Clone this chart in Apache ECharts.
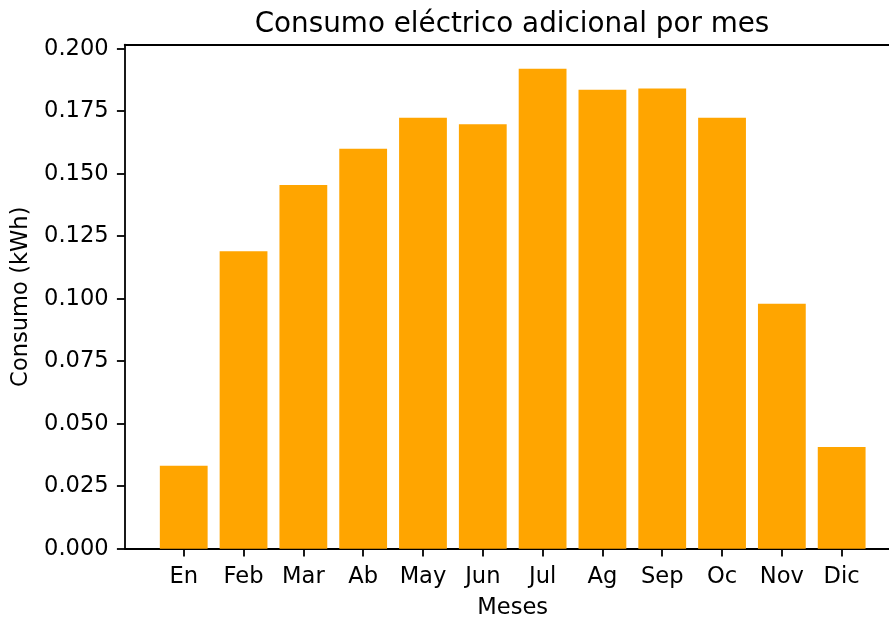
<!DOCTYPE html>
<html>
<head>
<meta charset="utf-8">
<script src="https://cdn.jsdelivr.net/npm/echarts@6/dist/echarts.min.js"></script>
<style>
  html, body { margin: 0; padding: 0; background: #ffffff; }
  #chart { width: 889px; height: 619px; }
</style>
</head>
<body>
<div id="chart"></div>
<script>
// Monthly additional electricity use
const months = ['En', 'Feb', 'Mar', 'Ab', 'May', 'Jun', 'Jul', 'Ag', 'Sep', 'Oc', 'Nov', 'Dic'];
const consumo = [0.0332, 0.1190, 0.1455, 0.1600, 0.1724, 0.1698, 0.1920, 0.1836, 0.1841, 0.1724, 0.0980, 0.0407];
const yTicks = [0, 0.025, 0.05, 0.075, 0.1, 0.125, 0.15, 0.175, 0.2];
const monthPositions = months.map((_, i) => i);

const FONT = 'DejaVu Sans';
const TICK_SIZE = 22.6;

const chart = echarts.init(document.getElementById('chart'), null, { renderer: 'canvas' });

const yMax = Math.max(...consumo) * 1.05;   // 5% headroom above the tallest bar
const xPad = 0.987;                          // margin either side of the outer bars

chart.setOption({
  animation: false,
  backgroundColor: '#ffffff',
  title: {
    text: 'Consumo eléctrico adicional por mes',
    left: 507,
    top: 6,
    textAlign: 'center',
    textStyle: { fontFamily: FONT, fontSize: 27.8, fontWeight: 'normal', color: '#000' }
  },
  // plot area runs a little past the right edge of the canvas
  grid: { left: 124.7, width: 776, top: 44.7, bottom: 70.3, containLabel: false, outerBoundsMode: 'none' },
  xAxis: [
    {
      type: 'value',
      min: -xPad,
      max: months.length - 1 + xPad,
      name: 'Meses',
      nameLocation: 'middle',
      nameGap: 48,
      nameTextStyle: { fontFamily: FONT, fontSize: TICK_SIZE, color: '#000' },
      axisLine: { show: true, onZero: false, lineStyle: { color: '#000', width: 1.8 } },
      axisTick: { show: true, length: 7.8, lineStyle: { color: '#000', width: 1.8 }, customValues: monthPositions },
      axisLabel: {
        customValues: monthPositions,
        margin: 17,
        fontFamily: FONT, fontSize: TICK_SIZE, color: '#000',
        formatter: v => months[Math.round(v)]
      },
      splitLine: { show: false }
    },
    {
      type: 'value',
      position: 'top',
      min: -xPad,
      max: months.length - 1 + xPad,
      axisLine: { show: true, onZero: false, lineStyle: { color: '#000', width: 1.8 } },
      axisTick: { show: false },
      axisLabel: { show: false },
      splitLine: { show: false }
    }
  ],
  yAxis: {
    type: 'value',
    min: 0,
    max: yMax,
    name: 'Consumo (kWh)',
    nameLocation: 'middle',
    nameGap: 92,
    nameTextStyle: { fontFamily: FONT, fontSize: TICK_SIZE, color: '#000' },
    axisLine: { show: true, onZero: false, lineStyle: { color: '#000', width: 1.8 } },
    axisTick: { show: true, length: 7.8, lineStyle: { color: '#000', width: 1.8 }, customValues: yTicks },
    axisLabel: {
      customValues: yTicks,
      margin: 16,
      fontFamily: FONT, fontSize: TICK_SIZE, color: '#000',
      formatter: v => v.toFixed(3)
    },
    splitLine: { show: false }
  },
  series: [{
    type: 'bar',
    xAxisIndex: 0,
    data: consumo.map((v, i) => [i, v]),
    barWidth: 47.8,
    itemStyle: { color: '#FFA500' }
  }]
});
</script>
</body>
</html>
